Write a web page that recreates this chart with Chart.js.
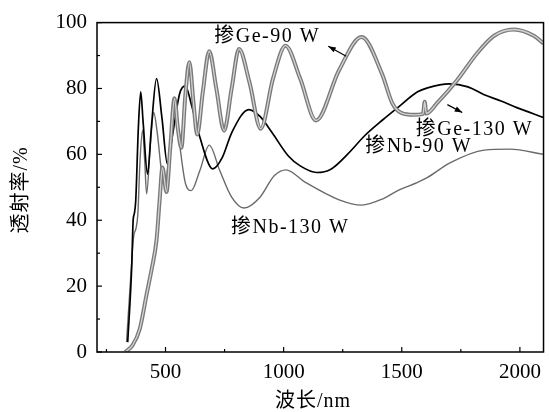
<!DOCTYPE html>
<html>
<head>
<meta charset="utf-8">
<script src="https://cdn.jsdelivr.net/npm/chart.js@4.4.1/dist/chart.umd.min.js"></script>
<style>
  html, body { margin: 0; background: #fff; }
  #wrap { width: 549px; height: 412px; }
</style>
</head>
<body>
<div id="wrap"><canvas id="c" width="549" height="412"></canvas></div>
<script>
/* transmittance spectra */

// 掺Ge-90 W / 掺Ge-130 W (the two curves overlap almost everywhere)
var geWl = [330, 360, 391, 420, 441, 462, 475, 487, 504, 520, 538, 552, 567, 584, 601, 618, 634, 658, 685, 715, 748, 780, 811, 855, 903, 955, 1008, 1070, 1137, 1235, 1330, 1416, 1460, 1500, 1550, 1590, 1597, 1604, 1651, 1735, 1819, 1891, 1975, 2059, 2100];
var geT  = [0, 2, 7, 17.5, 25, 34, 46, 56, 48.6, 62, 77, 68, 62, 78, 88, 76, 66, 79, 91.3, 80, 67.2, 80, 92, 82, 67.8, 83, 93, 83, 70.3, 85.6, 95.6, 84.5, 75.5, 72.5, 72, 72.3, 76, 72.4, 75.7, 82.6, 90.7, 96, 97.9, 96, 93.7];

// 掺Nb-90 W
var nb90Wl = [340, 357, 363, 368, 374, 385, 395, 405, 424, 440, 462, 485, 508, 530, 560, 584, 610, 643, 700, 740, 781, 853, 900, 950, 1020, 1070, 1140, 1200, 1270, 1345, 1420, 1483, 1567, 1609, 1700, 1780, 1849, 1920, 1987, 2100];
var nb90T  = [3, 26, 40, 42, 46, 68, 79, 70, 54, 68, 83, 71, 57, 66, 78.5, 80.8, 75, 65.8, 55.6, 59, 66.7, 73.6, 71.5, 66.7, 59.5, 56.5, 54.5, 55.5, 60, 65.8, 70.5, 74.2, 79, 80.2, 81.4, 80.5, 78.1, 76.2, 74.2, 71.2];

// 掺Nb-130 W
var nb130Wl = [335, 352, 365, 375, 383, 392, 403, 412, 420, 435, 450, 466, 483, 500, 520, 538, 560, 585, 609, 645, 685, 730, 780, 832, 900, 960, 1010, 1090, 1235, 1330, 1420, 1483, 1567, 1609, 1706, 1849, 1958, 2100];
var nb130T  = [3, 22, 35, 37.5, 42, 58, 67.3, 58, 48, 62, 72.7, 66, 55, 52, 64, 77, 63, 51, 49, 55, 62.8, 55, 47, 43.7, 47, 53.5, 55.3, 51.6, 46.2, 44.6, 46.5, 49, 51.5, 53, 57.5, 61.3, 61.6, 60];

// axes
var xMin = 210, xMax = 2100;
var yMin = 0, yMax = 100;

// curve labels: text, wavelength, transmittance (left edge, middle)
var labels = [
  ['掺Ge-90 W', 706, 95.8],
  ['掺Ge-130 W', 1559, 67.6],
  ['掺Nb-90 W', 1345, 62.2],
  ['掺Nb-130 W', 777, 37.8]
];
// arrows: from (wl, T) to (wl, T)
var arrows = [
  [1265, 89.8, 1189, 92.8],
  [1693, 75.1, 1756, 72.7]
];

function pts(xs, ys) {
  var out = [];
  for (var i = 0; i < xs.length; i++) out.push({ x: xs[i], y: ys[i] });
  return out;
}

var SERIF = '"Liberation Serif", "Noto Sans CJK SC", serif';

var decor = {
  id: 'decor',
  afterDraw: function(chart) {
    var ctx = chart.ctx, a = chart.chartArea;
    var sx = chart.scales.x, sy = chart.scales.y;
    ctx.save();
    ctx.strokeStyle = '#000';
    ctx.lineWidth = 1.5;
    ctx.strokeRect(a.left, a.top, a.right - a.left, a.bottom - a.top);

    // inward ticks
    ctx.lineWidth = 1.2;
    sx.ticks.forEach(function(t) {
      var px = sx.getPixelForValue(t.value);
      var len = t.value % 500 === 0 ? 5 : 3;
      ctx.beginPath(); ctx.moveTo(px, a.bottom); ctx.lineTo(px, a.bottom - len); ctx.stroke();
    });
    sy.ticks.forEach(function(t) {
      var py = sy.getPixelForValue(t.value);
      var len = t.value % 20 === 0 ? 5 : 3;
      ctx.beginPath(); ctx.moveTo(a.left, py); ctx.lineTo(a.left + len, py); ctx.stroke();
    });

    // curve labels
    ctx.fillStyle = '#000';
    ctx.font = '20px ' + SERIF;
    ctx.letterSpacing = '1.5px';
    ctx.textBaseline = 'middle';
    ctx.textAlign = 'left';
    labels.forEach(function(l) {
      ctx.fillText(l[0], sx.getPixelForValue(l[1]), sy.getPixelForValue(l[2]));
    });

    // arrows
    arrows.forEach(function(r) {
      var x0 = sx.getPixelForValue(r[0]), y0 = sy.getPixelForValue(r[1]);
      var x1 = sx.getPixelForValue(r[2]), y1 = sy.getPixelForValue(r[3]);
      var ang = Math.atan2(y1 - y0, x1 - x0);
      ctx.lineWidth = 1.2;
      ctx.beginPath(); ctx.moveTo(x0, y0); ctx.lineTo(x1, y1); ctx.stroke();
      ctx.beginPath();
      ctx.moveTo(x1, y1);
      ctx.lineTo(x1 - 8 * Math.cos(ang - 0.35), y1 - 8 * Math.sin(ang - 0.35));
      ctx.lineTo(x1 - 8 * Math.cos(ang + 0.35), y1 - 8 * Math.sin(ang + 0.35));
      ctx.closePath(); ctx.fill();
    });

    // axis titles
    ctx.font = '20px ' + SERIF;
    ctx.letterSpacing = '1px';
    ctx.textAlign = 'center';
    ctx.fillText('波长/nm', 313, 402);
    ctx.translate(22, 190);
    ctx.rotate(-Math.PI / 2);
    ctx.fillText('透射率/%', 0, 0);
    ctx.restore();
  }
};

new Chart(document.getElementById('c'), {
  type: 'scatter',
  data: {
    datasets: [
      { label: '掺Nb-130 W', data: pts(nb130Wl, nb130T), borderColor: '#6a6a6a', borderWidth: 1.4 },
      { label: '掺Nb-90 W', data: pts(nb90Wl, nb90T), borderColor: '#000', borderWidth: 1.7 },
      { label: '掺Ge-90 W', data: pts(geWl, geT), borderColor: '#7a7a7a', borderWidth: 4 },
      { label: '掺Ge-130 W', data: pts(geWl, geT), borderColor: '#d4d4d4', borderWidth: 1.3 }
    ].map(function(d, i) {
      d.showLine = true;
      d.pointRadius = 0;
      d.pointHoverRadius = 0;
      d.cubicInterpolationMode = 'monotone';
      d.order = 4 - i;
      return d;
    })
  },
  options: {
    responsive: false,
    animation: false,
    events: [],
    layout: { padding: { top: 19, right: 2, left: 0, bottom: 0 } },
    plugins: { legend: { display: false }, tooltip: { enabled: false } },
    scales: {
      x: {
        type: 'linear', min: xMin, max: xMax,
        grid: { display: false, drawTicks: false, tickLength: 0 }, border: { display: false },
        afterBuildTicks: function(s) {
          var t = [];
          for (var v = 250; v <= 2000; v += 250) t.push({ value: v });
          s.ticks = t;
        },
        afterFit: function(s) { s.height = 60; },
        ticks: {
          autoSkip: false, maxRotation: 0, padding: 8, color: '#000',
          font: { family: SERIF, size: 21 },
          callback: function(v) { return v % 500 === 0 ? v : ''; }
        }
      },
      y: {
        type: 'linear', min: yMin, max: yMax,
        grid: { display: false, drawTicks: false, tickLength: 0 }, border: { display: false },
        afterBuildTicks: function(s) {
          var t = [];
          for (var v = 0; v <= 100; v += 10) t.push({ value: v });
          s.ticks = t;
        },
        afterFit: function(s) { s.width = 97; },
        ticks: {
          autoSkip: false, padding: 10, color: '#000',
          font: { family: SERIF, size: 21 },
          callback: function(v) { return v % 20 === 0 ? v : ''; }
        }
      }
    }
  },
  plugins: [decor]
});
</script>
</body>
</html>
